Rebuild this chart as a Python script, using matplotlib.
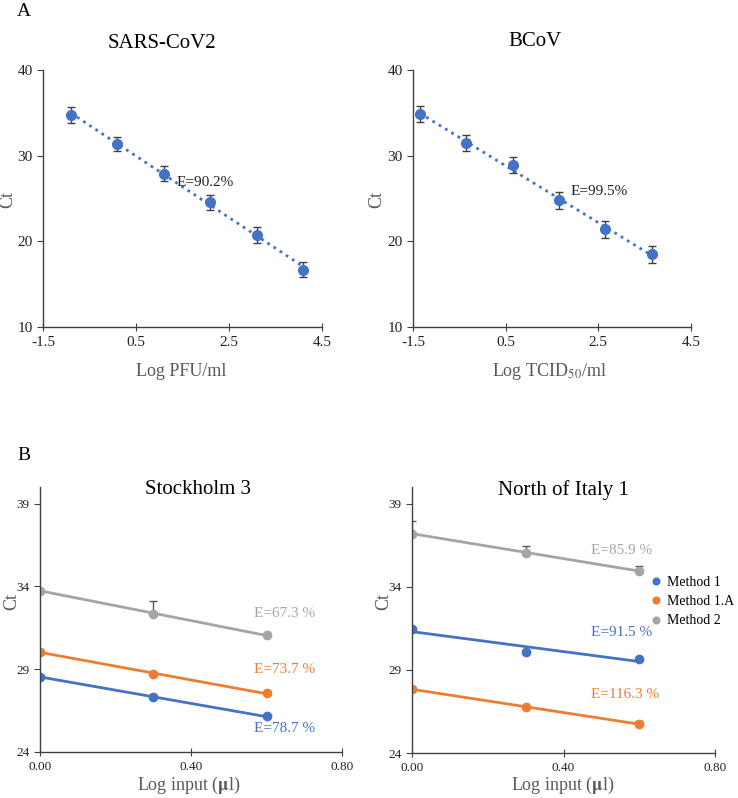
import numpy as np
import matplotlib
matplotlib.use("Agg")
import matplotlib.pyplot as plt

plt.rcParams['font.family'] = ['Liberation Serif', 'DejaVu Serif']
plt.rcParams['mathtext.fontset'] = 'stix'

# panel A data
sars_x = [-0.9, 0.1, 1.1, 2.1, 3.1, 4.1]
sars_ct = [34.75, 31.4, 27.9, 24.55, 20.75, 16.7]
sars_err = [0.9, 0.8, 0.9, 0.9, 0.9, 0.9]
bcov_x = [-1.35, -0.35, 0.65, 1.65, 2.65, 3.65]
bcov_ct = [34.85, 31.5, 28.9, 24.8, 21.4, 18.5]
bcov_err = [0.9, 0.9, 0.95, 1.0, 1.0, 1.0]

# panel B data
log_input = [0.0, 0.3, 0.6]
methods = ['Method 1', 'Method 1.A', 'Method 2']
colors = ['#4472C4', '#ED7D31', '#A5A5A5']
sth_ct = [[28.55, 27.3, 26.15], [30.05, 28.7, 27.55], [33.75, 32.35, 31.05]]
sth_err = [[0, 0.15, 0], [0, 0, 0], [0, 0.75, 0]]
sth_eff = ['E=78.7 %', 'E=73.7 %', 'E=67.3 %']
ita_ct = [[31.45, 30.1, 29.65], [27.85, 26.75, 25.75], [37.2, 36.05, 34.95]]
ita_err = [[0, 0, 0], [0, 0, 0.2], [0.75, 0.4, 0.3]]
ita_eff = ['E=91.5 %', 'E=116.3 %', 'E=85.9 %']

W, H = 738, 798
fig = plt.figure(figsize=(W / 100, H / 100), dpi=100)


def box(x0, y0, x1, y1):
    return [x0 / W, 1 - y1 / H, (x1 - x0) / W, (y1 - y0) / H]


def ftext(x, y, s, **kw):
    # text placed in figure pixels from top-left
    return fig.text(x / W, 1 - y / H, s, ha='center', va='center', **kw)


def style(ax, tick_size):
    for s in ['top', 'right']:
        ax.spines[s].set_visible(False)
    for s in ['left', 'bottom']:
        ax.spines[s].set_color('#404040')
        ax.spines[s].set_linewidth(1.0)
    ax.tick_params(axis='y', direction='out', length=4, color='#404040',
                   labelsize=tick_size, labelcolor='#222222')
    ax.tick_params(axis='x', direction='inout', length=6, color='#404040',
                   labelsize=tick_size, labelcolor='#222222')


def panel_a(pos, x, ct, err, etext, epos):
    ax = fig.add_axes(box(*pos))
    c = '#4472C4'
    fit = np.polyfit(x, ct, 1)
    xs = np.array([x[0], x[-1]])
    ax.plot(xs, np.polyval(fit, xs), ':', color=c, lw=2)
    ax.errorbar(x, ct, yerr=err, fmt='none', ecolor='#404040',
                elinewidth=1, capsize=3)
    ax.plot(x, ct, 'o', color=c, ms=7)
    ax.set_xlim(-1.5, 4.5)
    ax.set_ylim(10, 40)
    ax.set_xticks([-1.5, 0.5, 2.5, 4.5])
    ax.set_xticklabels(['-1.5', '0.5', '2.5', '4.5'])
    ax.set_yticks([10, 20, 30, 40])
    style(ax, 11)
    ax.text(epos[0], epos[1], etext, fontsize=11, color='#222222',
            va='center', ha='left')
    return ax


panel_a((43, 70, 322, 327), sars_x, sars_ct, sars_err, 'E=90.2%', (1.38, 26.9))
panel_a((413, 70, 691, 327), bcov_x, bcov_ct, bcov_err, 'E=99.5%', (1.9, 25.8))
ftext(162, 43, 'SARS-CoV2', fontsize=15)
ftext(535, 41, 'BCoV', fontsize=15)
ftext(181, 372, 'Log PFU/ml', fontsize=13, color='#595959')
ftext(549, 372, r'Log TCID$_{50}$/ml', fontsize=13, color='#595959')
ftext(8, 200, 'Ct', fontsize=13, color='#595959', rotation=90)
ftext(377, 200, 'Ct', fontsize=13, color='#595959', rotation=90)


def panel_b(pos, ct, err, eff, epos):
    ax = fig.add_axes(box(*pos))
    handles = []
    for i in range(3):
        fit = np.polyfit(log_input, ct[i], 1)
        xs = np.array([log_input[0], log_input[-1]])
        ax.plot(xs, np.polyval(fit, xs), '-', color=colors[i], lw=2)
        ax.errorbar(log_input, ct[i], yerr=[[0, 0, 0], err[i]], fmt='none',
                    ecolor='#595959', elinewidth=1, capsize=3)
        h, = ax.plot(log_input, ct[i], 'o', color=colors[i], ms=6)
        handles.append(h)
        ax.text(epos[0], epos[1][i], eff[i], fontsize=11, color=colors[i],
                va='center', ha='left')
    ax.set_xlim(0, 0.8)
    ax.set_ylim(24, 40)
    ax.set_xticks([0, 0.4, 0.8])
    ax.set_xticklabels(['0.00', '0.40', '0.80'])
    ax.set_yticks([24, 29, 34, 39])
    style(ax, 9.5)
    return ax, handles


panel_b((40, 487, 342, 752), sth_ct, sth_err, sth_eff,
        (0.567, [25.4, 29.0, 32.35]))
ax, handles = panel_b((412, 487, 715, 753), ita_ct, ita_err, ita_eff,
                      (0.473, [31.25, 27.5, 36.2]))
ftext(198, 490, 'Stockholm 3', fontsize=15)
ftext(563, 490, 'North of Italy 1', fontsize=15)
ftext(189, 785, 'Log input ($\\mathbf{\\mu}$l)', fontsize=13, color='#595959')
ftext(563, 785, 'Log input ($\\mathbf{\\mu}$l)', fontsize=13, color='#595959')
ftext(12, 602, 'Ct', fontsize=13, color='#595959', rotation=90)
ftext(384, 602, 'Ct', fontsize=13, color='#595959', rotation=90)

leg = fig.legend(handles, methods, loc='upper left',
                 bbox_to_anchor=(652 / W, 1 - 576 / H), frameon=False,
                 fontsize=10, handlelength=0.6, handletextpad=0.5,
                 labelspacing=0.45, markerscale=0.8, borderpad=0,
                 borderaxespad=0)

ftext(24, 12, 'A', fontsize=14)
ftext(24, 455, 'B', fontsize=14)

fig.savefig('out.png', dpi=100)
